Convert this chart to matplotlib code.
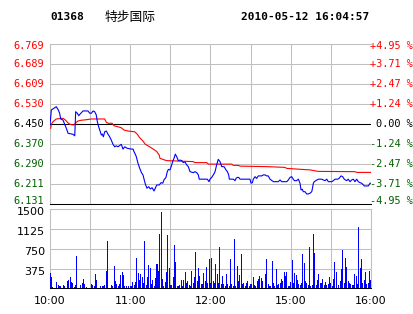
import matplotlib
matplotlib.use("Agg")
import matplotlib.pyplot as plt

# 01368 特步国际 分时图 2010-05-12
prev_close = 6.450
price_levels = [6.131, 6.211, 6.290, 6.370, 6.450, 6.530, 6.609, 6.689, 6.769]
pct_labels = ['-4.95 %', '-3.71 %', '-2.47 %', '-1.24 %', '0.00 %',
              '+1.24 %', '+2.47 %', '+3.71 %', '+4.95 %']
vol_ticks = [375, 750, 1125, 1500]
time_ticks = [0, 60, 120, 180, 240]
time_labels = ['10:00', '11:00', '12:00', '15:00', '16:00']

# 价格 (分钟, 价格)
price_min = [0, 1.0, 4.7, 6.2, 7.2, 8.0, 9.7, 11.0, 12.2, 13.5, 17.2, 18.5, 19.2, 20.4, 21.5,
             22.4, 24.7, 28.4, 29.7, 30.9, 32.2, 33.4, 34.6, 35.4, 36.4, 37.2, 38.4, 39.1,
             39.9, 40.9, 42.1, 43.4, 44.6, 45.8, 47.1, 48.4, 49.6, 50.8, 53.3, 54.6, 55.9,
             57.8, 60.8, 62.1, 62.8, 63.8, 64.5, 65.8, 67.1, 68.3, 69.5, 70.3, 71.3, 72.5,
             73.8, 75.0, 76.3, 77.8, 79.8, 81.7, 83.0, 84.3, 85.2, 86.7, 87.7, 88.5, 89.7,
             91.0, 91.7, 92.7, 93.7, 94.7, 95.9, 97.2, 98.5, 99.7, 100.9, 102.2, 103.4,
             104.7, 107.1, 108.4, 109.7, 110.9, 111.6, 117.6, 118.9, 119.6, 120.9, 122.1,
             123.4, 124.6, 125.8, 127.1, 128.4, 130.1, 131.6, 132.6, 133.6, 134.1, 137.1,
             138.3, 139.1, 140.0, 141.1, 142.1, 149.5, 150.3, 151.3, 152.0, 153.3, 154.5,
             155.7, 158.3, 159.5, 160.8, 162.0, 163.2, 164.5, 167.0, 170.7, 172.0, 173.2,
             177.0, 178.2, 179.4, 180.7, 181.5, 182.7, 184.4, 185.7, 186.9, 187.7, 188.6,
             189.4, 190.7, 191.9, 193.1, 194.4, 195.7, 196.1, 196.9, 197.6, 198.7, 200.6,
             203.1, 204.3, 205.6, 206.9, 208.1, 210.6, 211.8, 213.1, 215.1, 216.1, 217.6,
             218.8, 220.0, 221.8, 223.0, 224.3, 225.6, 226.8, 228.0, 229.3, 230.5, 231.8,
             233.0, 235.0, 238.0, 239.3, 240]
price = [6.446, 6.506, 6.519, 6.506, 6.493, 6.470, 6.466, 6.449, 6.433, 6.413, 6.409, 6.403,
         6.499, 6.493, 6.483, 6.489, 6.502, 6.502, 6.493, 6.493, 6.502, 6.499, 6.486, 6.459,
         6.439, 6.426, 6.406, 6.410, 6.399, 6.419, 6.422, 6.409, 6.399, 6.386, 6.369, 6.359,
         6.363, 6.359, 6.369, 6.350, 6.359, 6.353, 6.350, 6.350, 6.340, 6.329, 6.320, 6.293,
         6.273, 6.257, 6.247, 6.231, 6.210, 6.194, 6.200, 6.191, 6.196, 6.183, 6.207, 6.207,
         6.216, 6.214, 6.227, 6.237, 6.260, 6.269, 6.267, 6.287, 6.300, 6.313, 6.330, 6.320,
         6.304, 6.306, 6.304, 6.296, 6.299, 6.287, 6.280, 6.260, 6.256, 6.260, 6.256, 6.247,
         6.230, 6.230, 6.220, 6.230, 6.237, 6.247, 6.260, 6.287, 6.309, 6.300, 6.280, 6.280,
         6.267, 6.260, 6.247, 6.230, 6.230, 6.224, 6.233, 6.237, 6.237, 6.230, 6.230, 6.214,
         6.216, 6.230, 6.240, 6.233, 6.243, 6.243, 6.247, 6.247, 6.243, 6.243, 6.230, 6.220,
         6.220, 6.227, 6.220, 6.220, 6.227, 6.237, 6.240, 6.233, 6.224, 6.224, 6.230, 6.214,
         6.187, 6.190, 6.180, 6.180, 6.171, 6.171, 6.174, 6.180, 6.190, 6.214, 6.220, 6.224,
         6.230, 6.230, 6.227, 6.224, 6.230, 6.220, 6.220, 6.224, 6.230, 6.230, 6.233, 6.243,
         6.240, 6.230, 6.224, 6.230, 6.220, 6.227, 6.230, 6.220, 6.230, 6.220, 6.216, 6.214,
         6.203, 6.203, 6.214, 6.214]

# 均价
avg_min = [0.5, 1.0, 2.2, 4.7, 9.7, 11.5, 13.0, 14.7, 17.9, 19.7, 20.9, 23.4, 27.1, 30.9,
           40.9, 42.1, 43.4, 46.4, 47.9, 50.8, 53.3, 55.3, 58.3, 63.3, 65.3, 67.1, 69.5,
           71.3, 73.3, 75.7, 78.3, 79.8, 81.7, 82.2, 86.0, 87.3, 107.1, 108.4, 117.2, 118.4,
           135.9, 137.1, 140.8, 142.1, 162.0, 175.7, 177.0, 188.2, 194.4, 200.6, 228.0,
           229.3, 240]
avg_price = [6.433, 6.449, 6.459, 6.470, 6.473, 6.466, 6.457, 6.449, 6.446, 6.457, 6.462,
             6.465, 6.467, 6.470, 6.470, 6.457, 6.453, 6.453, 6.443, 6.439, 6.435, 6.426,
             6.422, 6.419, 6.409, 6.395, 6.382, 6.369, 6.363, 6.355, 6.346, 6.340, 6.326,
             6.313, 6.306, 6.304, 6.300, 6.296, 6.296, 6.290, 6.290, 6.285, 6.285, 6.282,
             6.280, 6.277, 6.273, 6.269, 6.267, 6.261, 6.260, 6.257, 6.257]

# 成交量 每分钟
volume = [286, 222, 32, 0, 0, 114, 63, 44, 44, 0, 63, 44, 0, 140, 159, 222, 114, 95, 32, 63,
          616, 13, 0, 63, 95, 178, 76, 32, 0, 13, 0, 83, 63, 44, 273, 159, 0, 0, 44, 44,
          44, 63, 330, 902, 13, 0, 63, 44, 425, 140, 89, 44, 83, 260, 311, 254, 44, 44, 0, 44,
          44, 44, 120, 63, 127, 584, 292, 159, 279, 222, 95, 902, 63, 222, 444, 394, 89, 159, 44, 190,
          463, 330, 1035, 1441, 178, 44, 127, 317, 1016, 394, 63, 63, 222, 825, 508, 44, 44, 63, 159, 44,
          159, 317, 108, 140, 63, 44, 330, 95, 222, 698, 140, 394, 235, 76, 83, 298, 140, 413, 108, 559,
          108, 584, 140, 95, 463, 273, 108, 775, 76, 235, 83, 44, 273, 83, 44, 559, 83, 44, 940, 44,
          425, 140, 254, 654, 76, 95, 44, 95, 140, 44, 83, 83, 216, 63, 44, 140, 178, 235, 190, 140,
          0, 273, 559, 83, 44, 44, 521, 108, 44, 368, 63, 83, 108, 178, 140, 311, 235, 311, 44, 44,
          114, 540, 95, 286, 254, 159, 83, 63, 95, 654, 476, 140, 95, 63, 775, 44, 63, 1035, 667, 63,
          159, 267, 108, 108, 178, 63, 114, 63, 83, 216, 95, 44, 178, 502, 317, 0, 63, 140, 368, 730,
          108, 571, 406, 146, 95, 83, 63, 63, 273, 235, 83, 1162, 381, 559, 95, 159, 305, 83, 108, 320,
          160]
vol_min = list(range(len(volume)))

red = '#FF0000'
green = '#006000'
grid_c = '#C0C0C0'
mono = 'DejaVu Sans Mono'
lw = 0.75  # 1 像素

fig = plt.figure(figsize=(4.14, 3.14), dpi=100)
W, H = 414, 314
ax = fig.add_axes([50 / W, 110 / H, 321 / W, 160 / H])
axv = fig.add_axes([50 / W, 25.7 / H, 321 / W, 79 / H])

# 价格区
ax.set_xlim(0, 240)
ax.set_ylim(price_levels[0], price_levels[-1])
ax.set_xticks(range(0, 241, 30))
ax.set_yticks(price_levels)
ax.grid(True, color=grid_c, linewidth=lw)
ax.tick_params(length=0, labelleft=False, labelbottom=False)
for s in ['top', 'left']:
    ax.spines[s].set_color(grid_c)
    ax.spines[s].set_linewidth(lw)
ax.spines['right'].set_visible(False)
ax.spines['bottom'].set_color('black')
ax.spines['bottom'].set_linewidth(lw)
ax.axhline(prev_close, color='black', linewidth=lw, zorder=3)
ax.plot(avg_min, avg_price, color=red, linewidth=0.8, zorder=4)
ax.plot(price_min, price, color='#0000FF', linewidth=0.8, zorder=5)

tr = ax.get_yaxis_transform()
nudge = {6.769: -0.008, 6.131: 0.012}
for lv, pl in zip(price_levels, pct_labels):
    c = green if lv < prev_close else (red if lv > prev_close else 'black')
    y = lv + nudge.get(lv, 0)
    ax.text(-0.018, y, f'{lv:.3f}', transform=tr, ha='right', va='center',
            color=c, family=mono, fontsize=7.4)
    ax.text(1.131, y, pl, transform=tr, ha='right', va='center',
            color=c, family=mono, fontsize=7.4)

# 成交量区
axv.bar(vol_min, volume, width=0.75, color='#0000FF', zorder=3)
axv.set_xlim(0, 240)
axv.set_ylim(0, 1500)
axv.set_xticks(range(0, 241, 30))
axv.set_yticks([0] + vol_ticks)
axv.grid(True, color=grid_c, linewidth=lw)
axv.tick_params(length=0, labelleft=False, labelbottom=False)
for s in ['top', 'left', 'right']:
    axv.spines[s].set_color(grid_c)
    axv.spines[s].set_linewidth(lw)
axv.spines['bottom'].set_color('black')
axv.spines['bottom'].set_linewidth(lw)
trv = axv.get_yaxis_transform()
for v in vol_ticks:
    axv.text(-0.015, v - 60, str(v), transform=trv, ha='right', va='center',
             color='black', fontsize=8)
trx = axv.get_xaxis_transform()
for t, lab in zip(time_ticks, time_labels):
    axv.text(t, -0.1, lab, transform=trx, ha='center', va='top',
             color='black', fontsize=8)

# 标题
fig.text(50 / W, 1 - 17 / H, '01368', family=mono, fontweight='bold',
         fontsize=8, va='center', ha='left')
fig.text(105 / W, 1 - 17 / H, '特步国际', family=['Noto Sans CJK SC', 'DejaVu Sans'],
         fontsize=9.2, va='center', ha='left')
fig.text(369 / W, 1 - 17 / H, '2010-05-12 16:04:57', family=mono, fontweight='bold',
         fontsize=8, va='center', ha='right')

fig.savefig('out.png', dpi=100)
